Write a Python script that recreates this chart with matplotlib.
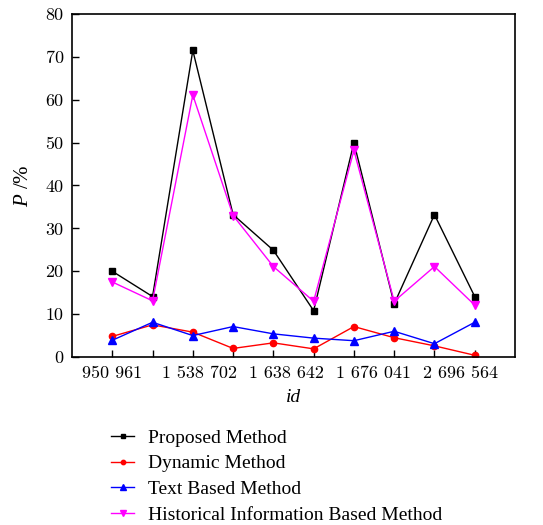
import matplotlib
matplotlib.use("Agg")
import matplotlib.pyplot as plt
import numpy as np

ids = ["950 961", "1 538 702", "1 638 642", "1 676 041", "2 696 564"]
proposed = [20.0, 14.1, 71.5, 33.2, 24.9, 10.8, 50.0, 12.4, 33.2, 14.1]
dynamic = [4.8, 7.5, 5.8, 2.0, 3.3, 1.9, 7.1, 4.5, 2.6, 0.4]
text_based = [3.9, 8.1, 5.0, 7.1, 5.4, 4.4, 3.8, 6.0, 3.1, 8.1]
historical = [17.5, 13.1, 61.1, 33.0, 21.1, 13.0, 48.2, 13.0, 21.1, 12.1]
series_names = ["Proposed Method", "Dynamic Method", "Text Based Method",
                "Historical Information Based Method"]
yticks = [0, 10, 20, 30, 40, 50, 60, 70, 80]

plt.rcParams['mathtext.fontset'] = 'custom'
plt.rcParams['mathtext.it'] = 'Liberation Serif:italic'
plt.rcParams['mathtext.rm'] = 'Liberation Serif'

fig = plt.figure(figsize=(5.43, 5.25), dpi=100)
ax = fig.add_axes([72/543, 1-357/525, (515-72)/543, (357-14)/525])

x = np.arange(len(proposed))
styles = [
    (proposed, 'black', 's', 4.5),
    (dynamic, 'red', 'o', 4.5),
    (text_based, 'blue', '^', 5.5),
    (historical, 'magenta', 'v', 5.5),
]
handles = []
for (vals, c, m, ms), name in zip(styles, series_names):
    h, = ax.plot(x, vals, color=c, marker=m, markersize=ms, linewidth=1.0,
                 label=name)
    handles.append(h)

ax.set_xlim(-1, len(proposed))
ax.set_ylim(0, 80)
ax.set_yticks(yticks)
ax.set_yticklabels([str(v) for v in yticks], family='cmr10', fontsize=13)

ax.xaxis.remove_overlapping_locs = False
ax.set_xticks(x)
ax.set_xticklabels([""] * len(x))
label_step = 2.16
ax.set_xticks([i * label_step for i in range(len(ids))], minor=True)
ax.set_xticklabels(ids, minor=True, family='cmr10', fontsize=13)

ax.tick_params(axis='both', which='major', direction='in', length=5,
               width=1.0, top=False, right=False)
ax.tick_params(axis='y', which='major', pad=6)
ax.tick_params(axis='x', which='minor', length=0, pad=6)
for s in ax.spines.values():
    s.set_linewidth(1.2)

ax.set_xlabel('id', fontsize=14, labelpad=6, family='Liberation Serif',
              style='italic')
ax.set_ylabel(r'$P$ /%', fontsize=15, labelpad=9, family='Liberation Serif')

leg = fig.legend(handles=handles, loc='upper left',
                 bbox_to_anchor=(111/543, 1-429/525), frameon=False,
                 prop={'family': 'Liberation Serif', 'size': 14},
                 handlelength=1.2, handletextpad=0.7, labelspacing=0.42,
                 borderpad=0, borderaxespad=0, markerscale=0.7)

fig.savefig("out.png", dpi=100)
